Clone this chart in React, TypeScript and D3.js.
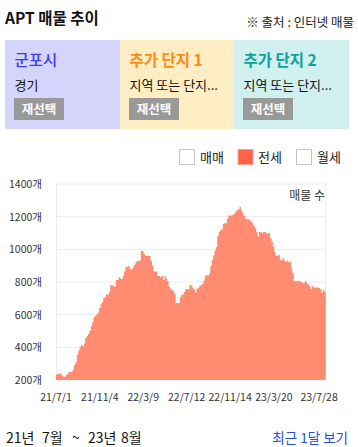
import React from "react";
import * as d3 from "d3";

const startDate = new Date(2021, 6, 1);
const endDate = new Date(2023, 7, 16);
const stepDays = 4;

const listingValues: number[] = [
  233, 239, 239, 241, 229, 220, 220, 230, 237, 249,
  249, 249, 265, 294, 310, 355, 380, 402, 412, 406,
  424, 457, 469, 482, 502, 529, 555, 584, 592, 602,
  612, 641, 663, 678, 702, 706, 725, 722, 737, 780,
  780, 776, 771, 812, 812, 829, 822, 818, 837, 865,
  892, 892, 898, 882, 873, 890, 906, 918, 929, 929,
  931, 990, 988, 972, 963, 959, 959, 959, 931, 900,
  865, 865, 865, 837, 837, 829, 837, 812, 835, 822,
  806, 771, 759, 751, 743, 727, 671, 671, 671, 706,
  720, 725, 739, 755, 755, 755, 780, 780, 767, 755,
  735, 759, 763, 776, 780, 788, 808, 837, 843, 839,
  853, 898, 935, 963, 992, 1012, 1082, 1106, 1118, 1122,
  1155, 1159, 1159, 1188, 1208, 1204, 1208, 1212, 1220, 1233,
  1241, 1245, 1261, 1237, 1224, 1204, 1188, 1184, 1184, 1180,
  1171, 1159, 1143, 1131, 1106, 1078, 1106, 1106, 1098, 1106,
  1106, 1098, 1098, 1098, 1069, 1045, 1016, 984, 963, 959,
  967, 935, 935, 947, 931, 922, 931, 922, 922, 884,
  857, 804, 808, 804, 808, 804, 800, 796, 792, 808,
  796, 784, 776, 755, 776, 767, 767, 767, 767, 763,
  755, 735, 751, 739,
];

const xTickLabels = ["21/7/1", "21/11/4", "22/3/9", "22/7/12", "22/11/14", "23/3/20", "23/7/28"];
const yTicks = [200, 400, 600, 800, 1000, 1200, 1400];

const cardTitles = ["군포시", "추가 단지 1", "추가 단지 2"];
const cardSubtitles = ["경기", "지역 또는 단지...", "지역 또는 단지..."];
const legendLabels = ["매매", "전세", "월세"];
const periodParts = ["21년", "7월", "~", "23년", "8월"];

const FONT = "'Noto Sans CJK KR', 'Noto Sans', sans-serif";

function parseLabel(s: string): Date {
  const [yy, m, d] = s.split("/").map(Number);
  return new Date(2000 + yy, m - 1, d);
}

export default function App() {
  const W = 358;
  const H = 447;
  const left = 56;
  const right = 325.7;
  const top = 184;
  const bottom = 380;

  const data = listingValues.map((v, i) => ({
    date: d3.timeDay.offset(startDate, i * stepDays),
    value: v,
  }));
  const areaData = [...data, { date: endDate, value: listingValues[listingValues.length - 1] }];

  const x = d3.scaleTime().domain([startDate, endDate]).range([left, right]);
  const y = d3.scaleLinear().domain([200, 1400]).range([bottom, top]);

  const area = d3
    .area<{ date: Date; value: number }>()
    .x((d) => x(d.date))
    .y0(y(200))
    .y1((d) => y(d.value))
    .curve(d3.curveStepAfter);

  const cards = [
    { x0: 5, w: 115, bg: "#d5d5fb", color: "#3a3aee", weight: 500 },
    { x0: 120, w: 114, bg: "#ffedc3", color: "#ff8a1a", weight: 700 },
    { x0: 234, w: 115, bg: "#cff0ee", color: "#12a09a", weight: 700 },
  ];

  const legend = [
    { bx: 179.5, tx: 200, fill: "#ffffff", stroke: "#c4c4c4" },
    { bx: 238, tx: 258, fill: "#ff6347", stroke: "#ff9f8c" },
    { bx: 296.5, tx: 317, fill: "#ffffff", stroke: "#c4c4c4" },
  ];

  const periodX = [6, 42, 72, 88, 121];

  return (
    <div style={{ position: "absolute", left: 0, top: 0, width: W, height: H, background: "#fff" }}>
      <svg width={W} height={H} style={{ display: "block", fontFamily: FONT }}>
        <text x={5} y={24} fontSize={15.5} fontWeight={700} fill="#111">APT 매물 추이</text>
        <text x={354} y={27} fontSize={12.5} textAnchor="end" fill="#222">※ 출처 : 인터넷 매물</text>

        {cards.map((c, i) => (
          <g key={i}>
            <rect x={c.x0} y={40} width={c.w} height={89} fill={c.bg} />
            <text x={c.x0 + 9.5} y={66} fontSize={15.5} fontWeight={c.weight} fill={c.color}>{cardTitles[i]}</text>
            <text x={c.x0 + 9.5} y={90} fontSize={13} fill="#111">{cardSubtitles[i]}</text>
            <rect x={c.x0 + 9} y={98} width={50} height={22} fill="#999999" />
            <text x={c.x0 + 34} y={113.5} fontSize={12.5} fontWeight={700} fill="#fff" textAnchor="middle">재선택</text>
          </g>
        ))}

        {legend.map((l, i) => (
          <g key={i}>
            <rect x={l.bx} y={149.5} width={15} height={15} fill={l.fill} stroke={l.stroke} strokeWidth={1} />
            <text x={l.tx} y={161.5} fontSize={13} fill="#222">{legendLabels[i]}</text>
          </g>
        ))}

        {yTicks.map((t) => (
          <g key={t}>
            <line x1={left} x2={right} y1={y(t)} y2={y(t)} stroke="#ececec" strokeWidth={1} />
            <text x={42} y={y(t) + 4} fontSize={10.5} textAnchor="end" fill="#333">{t}개</text>
          </g>
        ))}
        <line x1={left + 0.5} x2={left + 0.5} y1={top} y2={bottom} stroke="#ececec" />
        <line x1={right} x2={right} y1={top} y2={bottom} stroke="#ececec" />

        <path d={area(areaData) || ""} fill="#ff8b70" />

        <text x={325} y={200} fontSize={12} textAnchor="end" fill="#333">매물 수</text>

        {xTickLabels.map((s) => (
          <text key={s} x={x(parseLabel(s))} y={401} fontSize={10.5} textAnchor="middle" fill="#333">{s}</text>
        ))}

        <text y={443} fontSize={14} fill="#111">
          {periodParts.map((p, i) => (
            <tspan key={i} x={periodX[i]}>{p}</tspan>
          ))}
        </text>
        <text x={348} y={443} fontSize={13.5} textAnchor="end" fill="#2b4de0">최근 1달 보기</text>
      </svg>
    </div>
  );
}
